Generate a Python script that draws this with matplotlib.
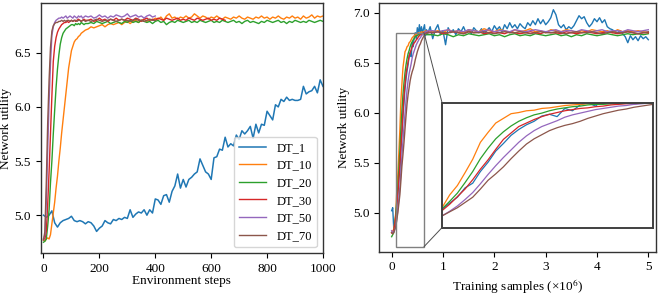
import numpy as np
import matplotlib
matplotlib.use("Agg")
import matplotlib.pyplot as plt
from matplotlib.patches import Rectangle, ConnectionPatch

plt.rcParams['font.family'] = ['Liberation Serif', 'DejaVu Serif']
plt.rcParams['mathtext.fontset'] = 'stix'
plt.rcParams['font.size'] = 9

labels = ["DT_1", "DT_10", "DT_20", "DT_30", "DT_50", "DT_70"]
colors = ["#1f77b4", "#ff7f0e", "#2ca02c", "#d62728", "#9467bd", "#8c564b"]

# ---------------- Left panel: Environment steps ----------------
# DT_1 sampled every 10 steps (0..1000)
left_dt1 = [5.00, 4.98, 5.00, 5.04, 4.93, 4.89, 4.93, 4.95, 4.96, 4.97,
            4.99, 4.95, 4.94, 4.95, 4.94, 4.92, 4.94, 4.93, 4.90, 4.85,
            4.88, 4.90, 4.95, 4.93, 4.92, 4.96, 4.95, 4.97, 4.96, 4.98,
            4.97, 5.05, 4.98, 5.01, 5.03, 5.02, 5.05, 5.00, 5.05, 5.02,
            5.15, 5.14, 5.10, 5.18, 5.19, 5.12, 5.22, 5.27, 5.38, 5.25,
            5.33, 5.26, 5.33, 5.35, 5.38, 5.40, 5.52, 5.46, 5.40, 5.38,
            5.33, 5.53, 5.54, 5.61, 5.60, 5.72, 5.63, 5.66, 5.64, 5.74,
            5.70, 5.78, 5.75, 5.78, 5.82, 5.71, 5.84, 5.76, 5.84, 5.83,
            5.96, 5.92, 5.88, 6.02, 6.00, 6.07, 6.05, 6.09, 6.06, 6.07,
            6.06, 6.06, 6.07, 6.19, 6.12, 6.14, 6.15, 6.19, 6.13, 6.25,
            6.19]

# Other series: every 5 steps for 0..150, then every 10 steps from 160
left_dt10 = [4.77, 4.76, 4.78, 4.79, 4.78, 4.82, 4.92, 5.02, 5.12, 5.25,
             5.36, 5.50, 5.62, 5.76, 5.88, 6.00, 6.12, 6.24, 6.36, 6.44,
             6.52, 6.56, 6.60, 6.62, 6.63, 6.65, 6.66, 6.68, 6.69, 6.70,
             6.71,
             6.72, 6.74, 6.73, 6.74, 6.75, 6.76, 6.74, 6.76, 6.77, 6.76,
             6.77, 6.78, 6.76, 6.78, 6.79, 6.77, 6.79, 6.80, 6.78, 6.80,
             6.81, 6.79, 6.81, 6.80, 6.82, 6.81, 6.83, 6.80, 6.84, 6.86,
             6.82, 6.83, 6.81, 6.83, 6.82, 6.84, 6.82, 6.83, 6.86, 6.84,
             6.82, 6.84, 6.83, 6.81, 6.83, 6.82, 6.84, 6.82, 6.81, 6.83,
             6.82, 6.81, 6.83, 6.82, 6.84, 6.82, 6.81, 6.83, 6.82, 6.81,
             6.83, 6.82, 6.84, 6.82, 6.83, 6.81, 6.83, 6.82, 6.84, 6.82,
             6.81, 6.83, 6.82, 6.84, 6.82, 6.83, 6.81, 6.84, 6.82, 6.83,
             6.85, 6.82, 6.84, 6.83, 6.84]
left_dt20 = [4.75, 4.76, 4.78, 4.90, 5.05, 5.30, 5.50, 5.75, 5.97, 6.18,
             6.35, 6.48, 6.58, 6.64, 6.68, 6.70, 6.72, 6.73, 6.74, 6.75,
             6.76, 6.76, 6.75, 6.77, 6.76, 6.77, 6.76, 6.78, 6.77, 6.76,
             6.77,
             6.77, 6.78, 6.77, 6.79, 6.78, 6.77, 6.78, 6.79, 6.77, 6.78,
             6.79, 6.78, 6.77, 6.79, 6.78, 6.80, 6.78, 6.79, 6.78, 6.80,
             6.79, 6.78, 6.79, 6.77, 6.79, 6.80, 6.78, 6.79, 6.76, 6.78,
             6.79, 6.78, 6.80, 6.79, 6.78, 6.79, 6.80, 6.78, 6.79, 6.78,
             6.80, 6.79, 6.78, 6.79, 6.80, 6.78, 6.79, 6.78, 6.80, 6.79,
             6.78, 6.79, 6.80, 6.78, 6.79, 6.77, 6.79, 6.80, 6.78, 6.79,
             6.78, 6.77, 6.79, 6.78, 6.80, 6.79, 6.78, 6.79, 6.80, 6.78,
             6.79, 6.77, 6.79, 6.78, 6.80, 6.79, 6.78, 6.79, 6.78, 6.80,
             6.79, 6.78, 6.79, 6.80, 6.79]
left_dt30 = [4.78, 4.78, 4.85, 5.10, 5.40, 5.75, 6.10, 6.42, 6.56, 6.64,
             6.69, 6.72, 6.74, 6.76, 6.77, 6.78, 6.78, 6.79, 6.78, 6.79,
             6.80, 6.79, 6.80, 6.79, 6.80, 6.81, 6.80, 6.79, 6.80, 6.81,
             6.80,
             6.80, 6.81, 6.79, 6.80, 6.82, 6.80, 6.81, 6.79, 6.81, 6.80,
             6.82, 6.80, 6.81, 6.80, 6.82, 6.81, 6.80, 6.82, 6.81, 6.79,
             6.81, 6.82, 6.80, 6.81, 6.80, 6.82, 6.81, 6.80, 6.82, 6.81,
             6.80, 6.81, 6.82, 6.80, 6.81, 6.80, 6.82, 6.81, 6.80, 6.82,
             6.81, 6.80, 6.81, 6.82, 6.80, 6.81, 6.80, 6.82, 6.81, 6.80]
left_dt50 = [4.78, 4.82, 5.12, 5.60, 6.05, 6.40, 6.66, 6.74, 6.78, 6.80,
             6.81, 6.82, 6.82, 6.83, 6.82, 6.83, 6.84, 6.82, 6.83, 6.84,
             6.83, 6.82, 6.84, 6.83, 6.82, 6.84, 6.83, 6.84, 6.82, 6.83,
             6.84,
             6.83, 6.84, 6.82, 6.83, 6.85, 6.83, 6.84, 6.82, 6.84, 6.83,
             6.85, 6.84, 6.83, 6.84, 6.86, 6.83, 6.84, 6.85, 6.83, 6.84,
             6.82, 6.84, 6.85, 6.83, 6.84]
left_dt70 = [4.77, 4.85, 5.30, 5.85, 6.25, 6.55, 6.70, 6.75, 6.77, 6.78,
             6.78, 6.79, 6.79, 6.80, 6.79, 6.80, 6.79, 6.80, 6.80, 6.79,
             6.80, 6.79, 6.80, 6.80, 6.79, 6.80, 6.80, 6.79, 6.80, 6.80,
             6.79,
             6.80, 6.79, 6.80, 6.81, 6.80, 6.79, 6.80, 6.80, 6.81, 6.80,
             6.79, 6.80, 6.81, 6.80, 6.80, 6.79, 6.80, 6.81, 6.80, 6.80,
             6.79, 6.80, 6.81, 6.80, 6.80]

# ---------------- Right panel: Training samples (x 1e6) ----------------
# DT_1: every 0.02 for 0..0.70, then every 0.05 from 0.75
right_dt1 = [5.02, 5.05, 4.85, 4.88, 4.97, 5.08, 5.18, 5.34, 5.42, 5.62,
             5.78, 5.97, 6.10, 6.24, 6.34, 6.42, 6.48, 6.57, 6.60, 6.56,
             6.70, 6.66, 6.76, 6.80, 6.74, 6.85, 6.78, 6.88, 6.80, 6.86,
             6.79, 6.84, 6.88, 6.77, 6.83, 6.79,
             6.86, 6.74, 6.83, 6.88, 6.78, 6.82, 6.68, 6.85, 6.80, 6.83,
             6.78, 6.84, 6.81, 6.86, 6.80, 6.83, 6.79, 6.85, 6.82, 6.80,
             6.84, 6.79, 6.82, 6.85, 6.81, 6.87, 6.83, 6.86, 6.81, 6.88,
             6.84, 6.90, 6.85, 6.88, 6.84, 6.89, 6.86, 6.84, 6.90, 6.87,
             6.92, 6.88, 6.94, 6.89, 6.93, 6.88, 6.91, 6.95, 7.03, 6.98,
             6.88, 6.85, 6.88, 6.83, 6.86, 6.84, 6.87, 6.92, 6.97, 6.94,
             6.96, 6.90, 6.86, 6.89, 6.94, 6.91, 6.95, 6.90, 6.93, 6.86,
             6.84, 6.83, 6.81, 6.80, 6.82, 6.79, 6.76, 6.70, 6.77, 6.73,
             6.76, 6.72, 6.77, 6.74, 6.76, 6.73]
# Others: every 0.02 for 0..0.70, then every 0.1 from 0.8
right_dt10 = [4.80, 4.82, 4.83, 4.90, 5.00, 5.22, 5.38, 5.60, 5.83, 6.12,
              6.29, 6.45, 6.53, 6.61, 6.63, 6.66, 6.67, 6.70, 6.71, 6.73,
              6.75, 6.76, 6.77, 6.78, 6.78, 6.79, 6.80, 6.79, 6.80, 6.81,
              6.80, 6.81, 6.80, 6.82, 6.81, 6.80,
              6.81, 6.82, 6.80, 6.83, 6.81, 6.82, 6.80, 6.83, 6.82, 6.81,
              6.84, 6.82, 6.81, 6.83, 6.82, 6.80, 6.83, 6.81, 6.82, 6.84,
              6.81, 6.82, 6.80, 6.83, 6.82, 6.81, 6.83, 6.82, 6.80, 6.82,
              6.81, 6.83, 6.82, 6.81, 6.82, 6.80, 6.83, 6.81, 6.82, 6.81,
              6.82, 6.81, 6.80]
right_dt20 = [4.76, 4.78, 4.80, 4.87, 4.98, 5.11, 5.25, 5.43, 5.62, 5.84,
              6.02, 6.18, 6.30, 6.40, 6.48, 6.54, 6.59, 6.62, 6.66, 6.69,
              6.71, 6.73, 6.74, 6.76, 6.77, 6.77, 6.78, 6.78, 6.79, 6.78,
              6.79, 6.79, 6.78, 6.79, 6.78, 6.78,
              6.78, 6.77, 6.79, 6.78, 6.76, 6.78, 6.77, 6.79, 6.78, 6.77,
              6.78, 6.79, 6.77, 6.78, 6.76, 6.78, 6.79, 6.77, 6.78, 6.77,
              6.79, 6.78, 6.77, 6.78, 6.79, 6.77, 6.78, 6.76, 6.78, 6.77,
              6.79, 6.78, 6.77, 6.78, 6.79, 6.78, 6.77, 6.78, 6.79, 6.78,
              6.79, 6.78, 6.79]
right_dt30 = [4.80, 4.79, 4.82, 4.87, 4.95, 5.06, 5.19, 5.32, 5.48, 5.66,
              5.82, 6.00, 6.17, 6.28, 6.39, 6.45, 6.51, 6.56, 6.60, 6.63,
              6.66, 6.68, 6.70, 6.71, 6.73, 6.74, 6.76, 6.77, 6.78, 6.78,
              6.79, 6.80, 6.80, 6.81, 6.80, 6.81,
              6.80, 6.81, 6.79, 6.80, 6.81, 6.80, 6.79, 6.81, 6.80, 6.81,
              6.79, 6.80, 6.81, 6.80, 6.79, 6.81, 6.80, 6.79, 6.80, 6.81,
              6.80, 6.79, 6.81, 6.80, 6.80, 6.79, 6.81, 6.80, 6.79, 6.80,
              6.81, 6.80, 6.79, 6.80, 6.81, 6.80, 6.79, 6.80, 6.81, 6.80,
              6.79, 6.80, 6.80]
right_dt50 = [4.82, 4.80, 4.81, 4.83, 4.86, 4.94, 5.03, 5.14, 5.26, 5.41,
              5.57, 5.72, 5.86, 5.99, 6.12, 6.23, 6.32, 6.39, 6.44, 6.49,
              6.55, 6.59, 6.62, 6.65, 6.68, 6.70, 6.72, 6.74, 6.75, 6.77,
              6.78, 6.79, 6.80, 6.81, 6.81, 6.82,
              6.82, 6.81, 6.82, 6.83, 6.81, 6.82, 6.81, 6.83, 6.82, 6.81,
              6.82, 6.83, 6.81, 6.82, 6.82, 6.81, 6.83, 6.82, 6.81, 6.82,
              6.83, 6.82, 6.81, 6.82, 6.83, 6.81, 6.82, 6.82, 6.81, 6.83,
              6.82, 6.81, 6.82, 6.83, 6.81, 6.82, 6.82, 6.81, 6.83, 6.82,
              6.81, 6.82, 6.83]
right_dt70 = [4.80, 4.79, 4.80, 4.83, 4.86, 4.93, 5.00, 5.09, 5.18, 5.32,
              5.47, 5.58, 5.70, 5.84, 5.97, 6.09, 6.18, 6.25, 6.32, 6.37,
              6.41, 6.44, 6.48, 6.53, 6.57, 6.61, 6.64, 6.67, 6.69, 6.72,
              6.74, 6.76, 6.78, 6.79, 6.80, 6.80,
              6.80, 6.81, 6.80, 6.80, 6.81, 6.80, 6.79, 6.81, 6.80, 6.80,
              6.81, 6.80, 6.79, 6.80, 6.81, 6.80, 6.80, 6.81, 6.80, 6.79,
              6.80, 6.81, 6.80, 6.80, 6.81, 6.80, 6.79, 6.80, 6.81, 6.80,
              6.80, 6.81, 6.80, 6.79, 6.80, 6.81, 6.80, 6.80, 6.81, 6.80,
              6.79, 6.80, 6.81]

zoom_x = (0.08, 0.63)
zoom_y = (4.66, 6.80)

left_xticks = [0, 200, 400, 600, 800, 1000]
left_yticks = [5.0, 5.5, 6.0, 6.5]
right_xticks = [0, 1, 2, 3, 4, 5]
right_yticks = [5.0, 5.5, 6.0, 6.5, 7.0]


def left_x(vals):
    n = len(vals)
    return np.concatenate([np.arange(31) * 5, 160 + 10 * np.arange(n - 31)])


def right_x(vals):
    n = len(vals)
    return np.concatenate([np.arange(36) * 0.02, 0.8 + 0.1 * np.arange(n - 36)])


def right_x_dt1(vals):
    n = len(vals)
    return np.concatenate([np.arange(36) * 0.02, 0.75 + 0.05 * np.arange(n - 36)])


fig = plt.figure(figsize=(6.64, 2.95), dpi=100)
ax1 = fig.add_axes([0.0613, 0.1414, 0.4251, 0.8496])
ax2 = fig.add_axes([0.5713, 0.1468, 0.4167, 0.8440])

spine_c = '0.2'
for ax in (ax1, ax2):
    for s in ax.spines.values():
        s.set_color(spine_c)
        s.set_linewidth(1.0)
    ax.tick_params(colors='black', width=0.8, length=3.5, labelsize=9.5)

# Left panel
ax1.plot(np.arange(len(left_dt1)) * 10, left_dt1, color=colors[0], lw=1.1, label=labels[0])
for vals, c, lab in zip([left_dt10, left_dt20, left_dt30, left_dt50, left_dt70],
                        colors[1:], labels[1:]):
    ax1.plot(left_x(vals), vals, color=c, lw=1.0, label=lab)
ax1.set_xlim(-10, 1000)
ax1.set_ylim(4.648, 6.963)
ax1.set_xticks(left_xticks)
ax1.set_yticks(left_yticks)
ax1.set_xlabel("Environment steps", labelpad=0, fontsize=9.5)
ax1.set_ylabel("Network utility", labelpad=2, fontsize=9.5)
ax1.legend(loc='lower right', fontsize=9, handlelength=2.2, labelspacing=0.45,
           borderaxespad=0.5)

# Right panel
right_series = [right_dt1, right_dt10, right_dt20, right_dt30, right_dt50, right_dt70]
xs = [right_x_dt1(right_dt1)] + [right_x(v) for v in right_series[1:]]
for x, vals, c, lab in zip(xs, right_series, colors, labels):
    ax2.plot(x, vals, color=c, lw=1.0, label=lab)
ax2.set_xlim(-0.24, 5.15)
ax2.set_ylim(4.61, 7.10)
ax2.set_xticks(right_xticks)
ax2.set_yticks(right_yticks)
ax2.set_xlabel("Training samples (×10$^{6}$)", labelpad=3, fontsize=9.5)
ax2.set_ylabel("Network utility", labelpad=2, fontsize=9.5)

# Inset
axins = fig.add_axes([0.6657, 0.2285, 0.3178, 0.4237])
for x, vals, c in zip(xs, right_series, colors):
    axins.plot(x, vals, color=c, lw=0.9)
axins.set_xlim(*zoom_x)
axins.set_ylim(*zoom_y)
axins.set_xticks([])
axins.set_yticks([])
for s in axins.spines.values():
    s.set_color('0.25')
    s.set_linewidth(1.4)

rect = Rectangle((zoom_x[0], zoom_y[0]), zoom_x[1] - zoom_x[0], zoom_y[1] - zoom_y[0],
                 fill=False, ec='0.5', lw=1.0, zorder=5)
ax2.add_patch(rect)
con1 = ConnectionPatch(xyA=(zoom_x[1], zoom_y[1]), coordsA=ax2.transData,
                       xyB=(0, 1), coordsB=axins.transAxes, color='0.3', lw=0.7)
con2 = ConnectionPatch(xyA=(zoom_x[1], zoom_y[0]), coordsA=ax2.transData,
                       xyB=(0, 0), coordsB=axins.transAxes, color='0.3', lw=0.7)
fig.add_artist(con1)
fig.add_artist(con2)

fig.savefig("out.png", dpi=100)
